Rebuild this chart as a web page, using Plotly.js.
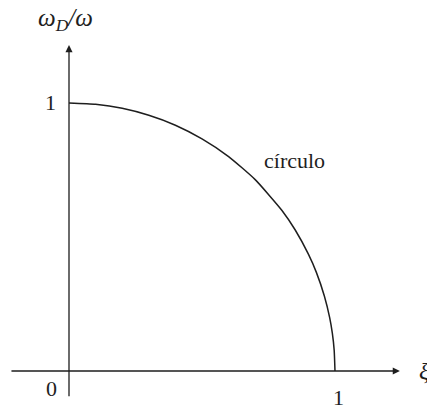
<!DOCTYPE html>
<html>
<head>
<meta charset="utf-8">
<script src="https://cdn.plot.ly/plotly-3.0.1.min.js"></script>
<style>
  html, body { margin: 0; padding: 0; background: #fff; }
  #chart { width: 427px; height: 409px; }
</style>
</head>
<body>
<div id="chart"></div>
<script>
// Damped frequency ratio versus damping ratio: a quarter circle
const xi = [0, 0.1, 0.2, 0.3, 0.4, 0.5, 0.6, 0.7, 0.8, 0.85, 0.9, 0.93, 0.96, 0.98, 0.99, 0.997, 1.0];
const ratio = [1, 0.995, 0.98, 0.954, 0.917, 0.866, 0.8, 0.714, 0.6, 0.527, 0.436, 0.368, 0.28, 0.199, 0.141, 0.077, 0];

const curveLabel = 'círculo';
const yTitle = '<i>ω<sub>D</sub>/ω</i>';
const xTitle = '<i>ξ</i>';
const tickZero = '0';
const tickOne = '1';

const ink = '#1e1e1e';
const serif = 'Liberation Serif, Times New Roman, serif';

const trace = {
  x: xi,
  y: ratio,
  mode: 'lines',
  line: { color: ink, width: 1.5, shape: 'spline', smoothing: 0.5 },
  hoverinfo: 'skip'
};

function arrow(x0, y0, x1, y1) {
  return {
    x: x1, y: y1, ax: x0, ay: y0,
    xref: 'x', yref: 'y', axref: 'x', ayref: 'y',
    text: '', showarrow: true,
    arrowhead: 2, arrowsize: 1.1, arrowwidth: 1.3, arrowcolor: ink
  };
}

function label(text, x, y, size, xanchor) {
  return {
    x: x, y: y, xref: 'x', yref: 'y',
    text: text, showarrow: false,
    xanchor: xanchor || 'center', yanchor: 'middle',
    font: { family: serif, size: size, color: ink }
  };
}

const layout = {
  width: 427,
  height: 409,
  margin: { l: 0, r: 0, t: 0, b: 0 },
  paper_bgcolor: '#fff',
  plot_bgcolor: '#fff',
  showlegend: false,
  xaxis: { range: [-0.2594, 1.3459], visible: false, fixedrange: true },
  yaxis: { range: [-0.1418, 1.3843], visible: false, fixedrange: true },
  annotations: [
    arrow(-0.222, 0, 1.244, 0),
    arrow(0, -0.1, 0, 1.216),
    label(yTitle, -0.012, 1.31, 25),
    label(xTitle, 1.31, 0.0, 24, 'left'),
    label(tickOne, -0.07, 1.0, 22),
    label(tickZero, -0.065, -0.065, 22),
    label(tickOne, 1.015, -0.098, 22),
    label(curveLabel, 0.848, 0.785, 22)
  ]
};

Plotly.newPlot('chart', [trace], layout, { displayModeBar: false, staticPlot: true });
</script>
</body>
</html>
